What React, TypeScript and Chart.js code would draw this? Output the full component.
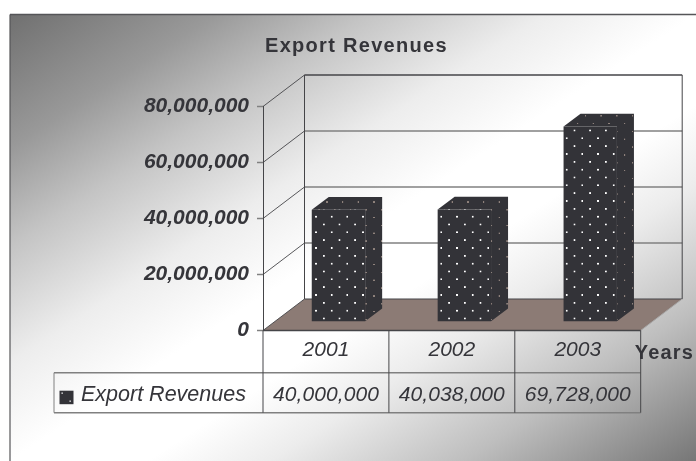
import { useEffect, useRef } from "react";
import { Chart, registerables } from "chart.js";

Chart.register(...registerables);

const chartTitle = "Export Revenues";
const seriesName = "Export Revenues";
const xAxisName = "Years";
const categories = ["2001", "2002", "2003"];
const exportRevenues = [40000000, 40038000, 69728000];
const yMax = 80000000;
const yStep = 20000000;

const FONT = '"Liberation Sans", Arial, sans-serif';
const INK = "#35353a";
const BAR = "#333338";
const FLOOR = "#8c7b75";
const GRID = "#808080";
const EDGE = "#454548";

// Perspective of the box: how far the back wall sits from the front plane.
const WALL_DX = 41.5;
const WALL_DY = -31.5;
// Bars stand part-way into the box and have their own depth.
const BAR_DX = 12.5;
const BAR_DY = -8.8;
const BAR_DEPTH_X = 17;
const BAR_DEPTH_Y = -12.8;

const fmt = (v: number) => v.toLocaleString("en-US");

// Staggered dot texture shared by the bar faces.
function dotPattern(ctx: CanvasRenderingContext2D, dot: string, radius: number, ox: number, oy: number) {
  const scale = 3;
  const pitch = 47;
  const tile = document.createElement("canvas");
  tile.width = pitch;
  tile.height = pitch;
  const t = tile.getContext("2d")!;
  t.fillStyle = BAR;
  t.fillRect(0, 0, pitch, pitch);
  t.fillStyle = dot;
  for (const [x, y] of [
    [ox * scale, oy * scale],
    [ox * scale + pitch / 2, oy * scale + pitch / 2],
  ]) {
    t.fillRect((x % pitch) - radius, (y % pitch) - radius, radius * 2, radius * 2);
  }
  const p = ctx.createPattern(tile, "repeat")!;
  p.setTransform(new DOMMatrix().scale(1 / scale));
  return p;
}

function line(ctx: CanvasRenderingContext2D, x1: number, y1: number, x2: number, y2: number, color: string, w: number) {
  ctx.strokeStyle = color;
  ctx.lineWidth = w;
  ctx.beginPath();
  ctx.moveTo(x1, y1);
  ctx.lineTo(x2, y2);
  ctx.stroke();
}

function spacedText(ctx: CanvasRenderingContext2D, s: string, x: number, y: number, font: string, spacing: string, align: CanvasTextAlign = "left") {
  ctx.save();
  ctx.font = font;
  ctx.fillStyle = INK;
  ctx.textAlign = align;
  ctx.textBaseline = "alphabetic";
  (ctx as any).letterSpacing = spacing;
  ctx.fillText(s, x, y);
  ctx.restore();
}

const backdrop = {
  id: "backdrop",
  beforeDraw(chart: Chart) {
    const { ctx, width, height } = chart;
    ctx.save();
    ctx.fillStyle = "#ffffff";
    ctx.fillRect(0, 0, width, height);
    const g = ctx.createLinearGradient(149, -76, 557, 552);
    g.addColorStop(0, "#707070");
    g.addColorStop(0.15, "#999999");
    g.addColorStop(0.26, "#c4c4c4");
    g.addColorStop(0.39, "#ededed");
    g.addColorStop(0.5, "#ffffff");
    g.addColorStop(0.6, "#ffffff");
    g.addColorStop(0.69, "#ececec");
    g.addColorStop(0.83, "#bebebe");
    g.addColorStop(1, "#767676");
    ctx.fillStyle = g;
    ctx.fillRect(10, 14.5, width - 10, height - 14.5);
    line(ctx, 10, 14.5, width, 14.5, "#555558", 1.5);
    line(ctx, 10, 14.5, 10, height, "#555558", 1.2);
    ctx.restore();
  },
};

const box3d = {
  id: "box3d",
  beforeDatasetsDraw(chart: Chart) {
    const { ctx } = chart;
    const { y: ys } = chart.scales as any;
    const left = chart.chartArea.left;
    const right = chart.chartArea.right;
    const y0 = ys.getPixelForValue(0);
    const yTop = ys.getPixelForValue(yMax);
    ctx.save();

    // Floor
    ctx.fillStyle = FLOOR;
    ctx.beginPath();
    ctx.moveTo(left, y0);
    ctx.lineTo(left + WALL_DX, y0 + WALL_DY);
    ctx.lineTo(right + WALL_DX, y0 + WALL_DY);
    ctx.lineTo(right, y0);
    ctx.closePath();
    ctx.fill();

    // Gridlines on the side and back walls
    for (let v = 0; v <= yMax; v += yStep) {
      const y = ys.getPixelForValue(v);
      line(ctx, left, y, left + WALL_DX, y + WALL_DY, EDGE, 0.9);
      if (v > 0 && v < yMax) line(ctx, left + WALL_DX, y + WALL_DY, right + WALL_DX, y + WALL_DY, GRID, 1.5);
    }
    line(ctx, left + WALL_DX, yTop + WALL_DY, right + WALL_DX, yTop + WALL_DY, EDGE, 1.4);
    line(ctx, left + WALL_DX, y0 + WALL_DY, right + WALL_DX, y0 + WALL_DY, EDGE, 1.2);
    line(ctx, left + WALL_DX, yTop + WALL_DY, left + WALL_DX, y0 + WALL_DY, EDGE, 1);
    line(ctx, right + WALL_DX, yTop + WALL_DY, right + WALL_DX, y0 + WALL_DY, EDGE, 1);
    line(ctx, right, y0, right + WALL_DX, y0 + WALL_DY, "#a8a8a8", 1);

    // Faces of the bars that run back from the front one
    const side = dotPattern(ctx, "#8f827c", 2.2, 5.8, 6.1);
    const bars = chart.getDatasetMeta(0).data as any[];
    for (const b of bars) {
      const hw = b.width / 2;
      const l = b.x - hw + BAR_DX;
      const r = b.x + hw + BAR_DX;
      const t = b.y + BAR_DY;
      const base = b.base + BAR_DY;
      ctx.fillStyle = side;
      ctx.beginPath();
      ctx.moveTo(l, t);
      ctx.lineTo(l + BAR_DEPTH_X, t + BAR_DEPTH_Y);
      ctx.lineTo(r + BAR_DEPTH_X, t + BAR_DEPTH_Y);
      ctx.lineTo(r + BAR_DEPTH_X, base + BAR_DEPTH_Y);
      ctx.lineTo(r, base);
      ctx.lineTo(r, t);
      ctx.closePath();
      ctx.fill();
    }
    ctx.restore();

    // The front faces are drawn by the bar elements, moved into the box.
    ctx.save();
    ctx.translate(BAR_DX, BAR_DY);
  },
  afterDatasetsDraw(chart: Chart) {
    const { ctx } = chart;
    ctx.restore();
    const { x: xs, y: ys } = chart.scales as any;
    const left = chart.chartArea.left;
    const right = chart.chartArea.right;
    const y0 = ys.getPixelForValue(0);
    const rowTop = 372.7;
    const rowBottom = 412.7;
    const tableLeft = 54;

    ctx.save();
    // Front edge of the floor
    line(ctx, left, y0, right, y0, EDGE, 1.6);

    // Data table
    line(ctx, tableLeft, rowTop, right, rowTop, GRID, 1.5);
    line(ctx, tableLeft, rowBottom, right, rowBottom, GRID, 1.5);
    line(ctx, tableLeft, rowTop, tableLeft, rowBottom, GRID, 1);
    line(ctx, left, y0, left, rowBottom, EDGE, 1);
    const cell = (right - left) / categories.length;
    categories.forEach((_, i) => {
      const edge = xs.getPixelForValue(i) + cell / 2;
      line(ctx, edge, y0, edge, rowBottom, EDGE, 1);
    });

    ctx.fillStyle = BAR;
    ctx.fillRect(59.5, 390.7, 14, 13.5);
    ctx.fillStyle = "#ffffff";
    ctx.fillRect(61.5, 392.5, 1.3, 1.3);
    ctx.fillRect(69.5, 400.5, 1.3, 1.3);

    const cellFont = `italic 21px ${FONT}`;
    spacedText(ctx, seriesName, 81, 401, `italic 21.5px ${FONT}`, "0px");
    exportRevenues.forEach((v, i) => {
      spacedText(ctx, fmt(v), xs.getPixelForValue(i), 401, cellFont, "0.1px", "center");
    });

    // Headings
    spacedText(ctx, chartTitle, 265, 51.5, `bold 20px ${FONT}`, "1.3px");
    spacedText(ctx, xAxisName, 634.7, 359, `bold 20px ${FONT}`, "1.2px");
    ctx.restore();
  },
};

export default function App() {
  const ref = useRef<HTMLCanvasElement>(null);
  useEffect(() => {
    const canvas = ref.current!;
    const ctx = canvas.getContext("2d")!;
    const chart = new Chart(canvas, {
      type: "bar",
      data: {
        labels: categories,
        datasets: [
          {
            label: seriesName,
            data: exportRevenues,
            backgroundColor: dotPattern(ctx, "#ffffff", 2.6, 5.8, 6.1) as any,
            borderWidth: 0,
            barPercentage: 0.424,
            categoryPercentage: 1,
            clip: false as any,
          },
        ],
      },
      plugins: [backdrop, box3d],
      options: {
        responsive: false,
        animation: false,
        layout: { padding: { left: 133, right: 55.3, top: 106.5, bottom: 80.5 } },
        plugins: { legend: { display: false }, title: { display: false }, tooltip: { enabled: false } },
        scales: {
          x: {
            afterFit: (s: any) => {
              s.height = 50;
            },
            grid: { display: false, drawTicks: false },
            border: { display: false },
            ticks: {
              autoSkip: false,
              maxRotation: 0,
              padding: 7,
              color: INK,
              font: { family: FONT, style: "italic", size: 21 },
            },
          },
          y: {
            min: 0,
            max: yMax,
            afterFit: (s: any) => {
              s.width = 130;
            },
            grid: { drawOnChartArea: false, tickLength: 6, tickColor: GRID, tickWidth: 1.5 },
            border: { color: EDGE, width: 1 },
            ticks: {
              stepSize: yStep,
              padding: 8,
              color: INK,
              font: { family: FONT, style: "italic", weight: "bold", size: 21 },
              callback: (v: any) => fmt(Number(v)),
            },
          },
        },
      },
    });
    return () => chart.destroy();
  }, []);
  return (
    <canvas
      ref={ref}
      width={696}
      height={461}
      style={{ position: "absolute", left: 0, top: 0, width: 696, height: 461, display: "block" }}
    />
  );
}
